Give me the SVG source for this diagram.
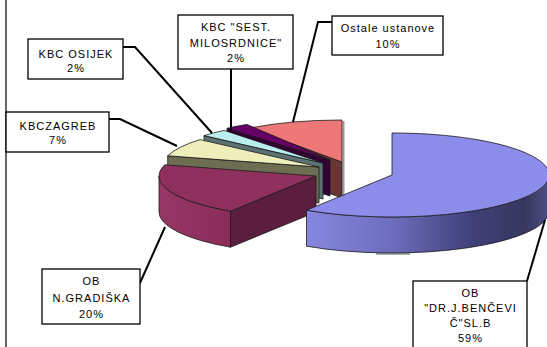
<svg xmlns="http://www.w3.org/2000/svg" width="547" height="347" viewBox="0 0 547 347">
<style>
.f{stroke:#1a1a1a;stroke-width:0.8;stroke-linejoin:round}
.box{fill:#fff;stroke:#000;stroke-width:1.3}
.t{font-family:"Liberation Sans",Arial,sans-serif;font-size:11px;letter-spacing:1px;fill:#000;text-anchor:middle}
.c{fill:none;stroke:#000;stroke-width:2}
</style>
<defs>
<linearGradient id="blueSide" gradientUnits="userSpaceOnUse" x1="306" y1="0" x2="549" y2="0">
<stop offset="0" stop-color="#8686DE"/>
<stop offset="0.35" stop-color="#6E6EBE"/>
<stop offset="0.68" stop-color="#40407A"/>
<stop offset="0.9" stop-color="#36365F"/>
<stop offset="1" stop-color="#4E4E84"/>
</linearGradient>
<linearGradient id="maroonSide" gradientUnits="userSpaceOnUse" x1="159" y1="0" x2="231" y2="0">
<stop offset="0" stop-color="#963866"/>
<stop offset="1" stop-color="#8A2B59"/>
</linearGradient>
</defs>
<rect width="547" height="347" fill="#fff"/>
<line x1="6" y1="0" x2="6" y2="347" stroke="#000" stroke-width="1.2"/>
<g id="pie">
<!-- shadows -->
<line x1="343.5" y1="121" x2="343.5" y2="197" stroke="#9a9a9a" stroke-width="2"/>
<rect x="376" y="252" width="34" height="3" fill="#aaaaaa"/>
<g id="slice-ostale">
<path class="f" fill="#6B3535" d="M342,162 L249.7,128 L249.7,164 L342,198 Z"/>
<path class="f" fill="#EE7777" d="M342,162 L249.7,128 A157,42 0 0 1 342,120 Z"/>
</g>
<g id="slice-milosrdnice">
<path class="f" fill="#330033" d="M330,160 L227,128.3 L227,164.3 L330,196 Z"/>
<path class="f" fill="#660066" d="M330,160 L227,128.3 A157,42 0 0 1 246.8,124.4 Z"/>
</g>
<g id="slice-osijek">
<path class="f" fill="#5A7272" d="M323,163 L204,135.6 L204,171.6 L323,199 Z"/>
<path class="f" fill="#BBEEEE" d="M323,163 L204,135.6 A157,42 0 0 1 224.2,130.4 Z"/>
</g>
<g id="slice-zagreb">
<path class="f" fill="#6D6D52" d="M319,167 L167.7,155.8 L167.7,191.8 L319,203 Z"/>
<path class="f" fill="#EEEEBB" d="M319,167 L167.7,155.8 A157,42 0 0 1 200,139.6 Z"/>
</g>
<g id="slice-gradiska">
<path class="f" fill="url(#maroonSide)" d="M230.5,211.2 A157,42 0 0 1 159,176 L159,212 A157,42 0 0 0 230.5,247.2 Z"/>
<path class="f" fill="#5B1E3E" d="M316,176 L230.5,211.2 L230.5,247.2 L316,212 Z"/>
<path class="f" fill="#8F2F5E" d="M316,176 L230.5,211.2 A157,42 0 0 1 164.7,164.8 Z"/>
</g>
<g id="slice-bencevic">
<path class="f" fill="url(#blueSide)" d="M549,175 A157,42 0 0 1 306.5,210.2 L306.5,246.2 A157,42 0 0 0 549,211 Z"/>
<path class="f" fill="#8C8CEA" d="M392,175 L392,133 A157,42 0 1 1 306.5,210.2 Z"/>
</g>
</g>
<g id="connectors">
<polyline class="c" points="123,47 135,47 212,133"/>
<polyline class="c" points="231,69 231,131"/>
<polyline class="c" points="332,22 318,22 293,122"/>
<polyline class="c" points="109,119 120,119 177,146"/>
<polyline class="c" points="140,283 165,227"/>
<polyline class="c" points="527,281 545,220"/>
</g>
<g id="label-milosrdnice">
<rect class="box" x="178" y="15" width="115" height="54"/>
<text class="t" x="236" y="31">KBC "SEST.</text>
<text class="t" x="236" y="46.5">MILOSRDNICE"</text>
<text class="t" x="236" y="62">2%</text>
</g>
<g id="label-osijek">
<rect class="box" x="28" y="39" width="95" height="40"/>
<text class="t" x="76" y="58">KBC OSIJEK</text>
<text class="t" x="76" y="72">2%</text>
</g>
<g id="label-ostale">
<rect class="box" x="332" y="16" width="111" height="39"/>
<text class="t" x="388" y="32">Ostale ustanove</text>
<text class="t" x="388" y="48">10%</text>
</g>
<g id="label-zagreb">
<rect class="box" x="6" y="112" width="103" height="40"/>
<text class="t" x="58" y="130">KBCZAGREB</text>
<text class="t" x="58" y="144">7%</text>
</g>
<g id="label-gradiska">
<rect class="box" x="42" y="269" width="98" height="55"/>
<text class="t" x="91.5" y="285">OB</text>
<text class="t" x="91.5" y="302">N.GRADIŠKA</text>
<text class="t" x="91.5" y="318">20%</text>
</g>
<g id="label-bencevic">
<rect class="box" x="413" y="281" width="114" height="80"/>
<text class="t" x="470.5" y="297">OB</text>
<text class="t" x="470.5" y="312">"DR.J.BENČEVI</text>
<text class="t" x="470.5" y="327">Č"SL.B</text>
<text class="t" x="470.5" y="342">59%</text>
</g>
</svg>
